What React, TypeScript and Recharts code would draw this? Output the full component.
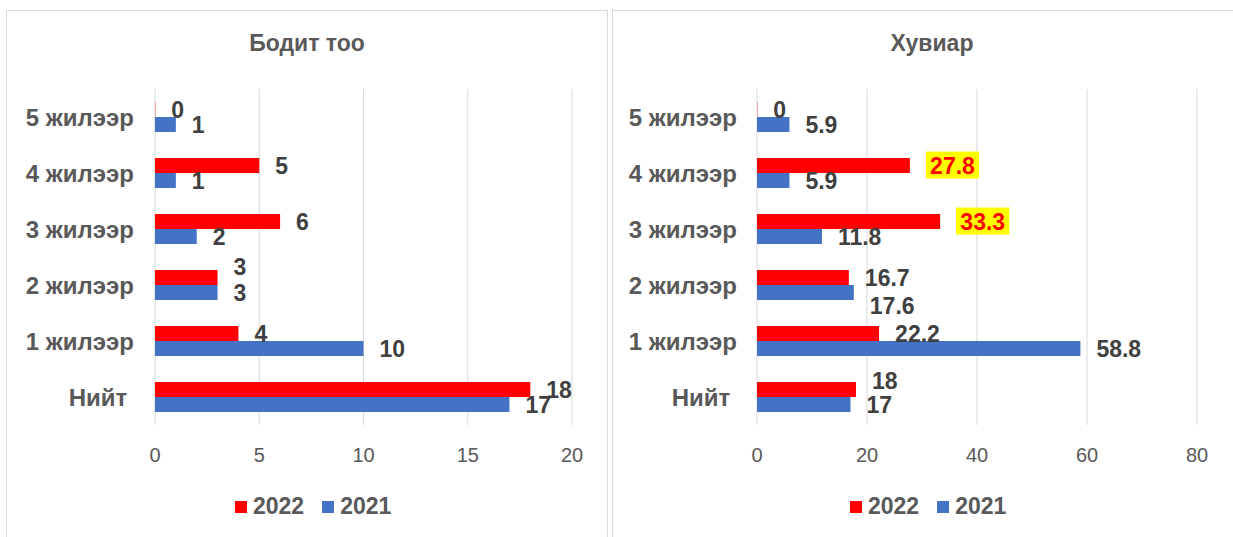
import React from 'react';
import { Bar, BarChart, CartesianGrid, LabelList, XAxis, YAxis } from 'recharts';

const categories = ['5 жилээр', '4 жилээр', '3 жилээр', '2 жилээр', '1 жилээр', 'Нийт\u00A0'];
const count2022 = [0, 5, 6, 3, 4, 18];
const count2021 = [1, 1, 2, 3, 10, 17];
const pct2022 = [0, 27.8, 33.3, 16.7, 22.2, 18];
const pct2021 = [5.9, 5.9, 11.8, 17.6, 58.8, 17];
const countTicks = [0, 5, 10, 15, 20];
const pctTicks = [0, 20, 40, 60, 80];

const RED = '#FF0000';
const BLUE = '#4472C4';
const FONT = '"Liberation Sans", Arial, sans-serif';
const SERIES = [
    { key: 'y2022', name: '2022', color: RED },
    { key: 'y2021', name: '2021', color: BLUE },
];

const countData = categories.map((name, i) => ({ name, y2022: count2022[i], y2021: count2021[i] }));
const pctData = categories.map((name, i) => ({ name, y2022: pct2022[i], y2021: pct2021[i] }));

// small manual nudges of a few labels, like the hand-moved ones in the original
const makeLabel = (nudge: Record<number, number> = {}, highlight: number[] = []) => (props: any) => {
    const { x, y, width, height, value, index } = props;
    const tx = Number(x) + Number(width) + 16;
    const ty = Number(y) + Number(height) / 2 + (nudge[index] || 0);
    const text = String(value);
    const style = { fontFamily: FONT, fontSize: 23, fontWeight: 700 };
    if (highlight.includes(index)) {
        const w = text.length * 13.3;
        return (
            <g>
                <rect x={tx} y={ty - 14} width={w} height={27} fill="#FFFF00" />
                <text x={tx + w / 2} y={ty} textAnchor="middle" dominantBaseline="central" fill={RED} style={style}>
                    {text}
                </text>
            </g>
        );
    }
    return (
        <text x={tx} y={ty} dominantBaseline="central" fill="#404040" style={style}>
            {text}
        </text>
    );
};

function Panel({ left, width, title, data, max, ticks, yWidth, tickGap, labels }: any) {
    return (
        <div style={{ position: 'absolute', left, top: 10, width, height: 540, border: '1px solid #d9d9d9', boxSizing: 'border-box' }}>
            <div style={{ position: 'absolute', left: 0, right: 0, top: 19, textAlign: 'center', fontFamily: FONT, fontWeight: 700, fontSize: 23, color: '#595959' }}>
                {title}
            </div>
            <BarChart
                width={width}
                height={527}
                data={data}
                layout="vertical"
                barSize={15}
                barGap={0}
                margin={{ top: 79, right: width - yWidth - (max === 20 ? 417 : 440), bottom: 72, left: 0 }}
                style={{ position: 'absolute', left: -1, top: -1 }}
            >
                <CartesianGrid horizontal={false} stroke="#d9d9d9" />
                <XAxis
                    type="number"
                    domain={[0, max]}
                    ticks={ticks}
                    axisLine={false}
                    tickLine={false}
                    height={40}
                    tickMargin={17}
                    tick={{ fontFamily: FONT, fontSize: 20, fill: '#595959' }}
                />
                <YAxis
                    type="category"
                    dataKey="name"
                    width={yWidth}
                    axisLine={false}
                    tickLine={false}
                    tickMargin={tickGap}
                    tick={{ fontFamily: FONT, fontSize: 24, fontWeight: 700, fill: '#595959' }}
                />
                {SERIES.map((s, i) => (
                    <Bar key={s.key} dataKey={s.key} name={s.name} fill={s.color} minPointSize={0.3} isAnimationActive={false}>
                        <LabelList dataKey={s.key} content={labels[i]} />
                    </Bar>
                ))}
            </BarChart>
        </div>
    );
}

function Legend({ left }: { left: number }) {
    return (
        <div style={{ position: 'absolute', left, top: 493, display: 'flex', alignItems: 'center', fontFamily: FONT, fontWeight: 700, fontSize: 23, color: '#595959' }}>
            {SERIES.map((s, i) => (
                <div key={s.key} style={{ display: 'flex', alignItems: 'center', marginRight: i === 0 ? 18 : 0 }}>
                    <span style={{ width: 12, height: 12, background: s.color, marginRight: 6 }} />
                    <span>{s.name}</span>
                </div>
            ))}
        </div>
    );
}

export default function App() {
    return (
        <div style={{ position: 'fixed', left: 0, top: 0, width: 1233, height: 537, background: '#fff', overflow: 'hidden' }}>
            <Panel
                left={6}
                width={602}
                title="Бодит тоо"
                data={countData}
                max={20}
                ticks={countTicks}
                yWidth={149}
                tickGap={15}
                labels={[makeLabel({ 3: -11 }), makeLabel()]}
            />
            <Panel
                left={612}
                width={640}
                title="Хувиар"
                data={pctData}
                max={80}
                ticks={pctTicks}
                yWidth={145}
                tickGap={14}
                labels={[makeLabel({ 5: -9 }, [1, 2]), makeLabel({ 3: 13 })]}
            />
            <Legend left={235} />
            <Legend left={850} />
        </div>
    );
}
